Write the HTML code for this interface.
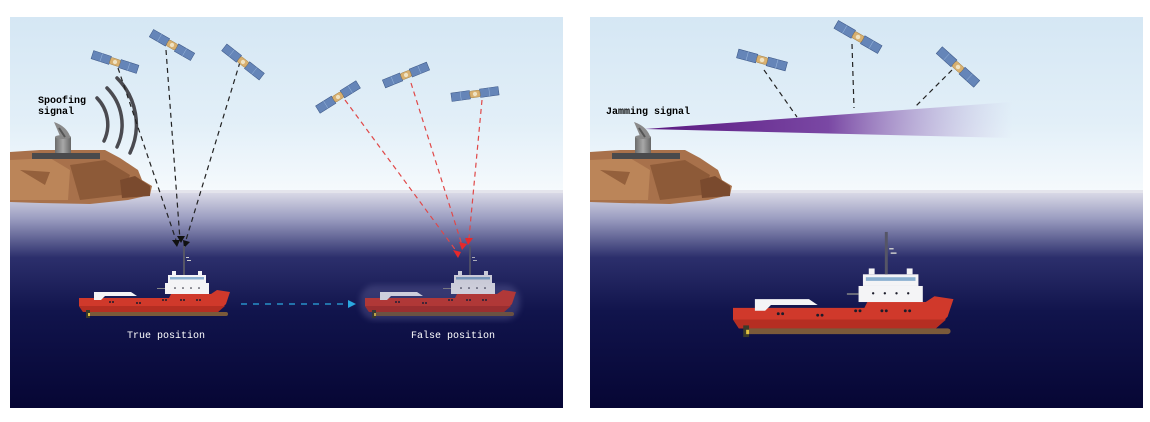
<!DOCTYPE html>
<html><head><meta charset="utf-8"><style>
html,body{margin:0;padding:0;background:#fff;}
svg{display:block;}
text{font-family:"Liberation Mono",monospace;font-size:10px;}
</style></head><body>
<svg width="1150" height="422" viewBox="0 0 1150 422" xmlns="http://www.w3.org/2000/svg">
<defs>
<linearGradient id="sky" x1="0" y1="0" x2="0" y2="1">
<stop offset="0" stop-color="#d5e7f4"/><stop offset="0.6" stop-color="#e2eff8"/><stop offset="1" stop-color="#f6fafd"/></linearGradient>
<linearGradient id="sea" x1="0" y1="0" x2="0" y2="1">
<stop offset="0" stop-color="#d8d8e6"/><stop offset="0.12" stop-color="#9a9cc0"/><stop offset="0.3" stop-color="#2c2f6c"/><stop offset="0.55" stop-color="#11144c"/><stop offset="1" stop-color="#060634"/></linearGradient>
<linearGradient id="beam" x1="0" y1="0" x2="1" y2="0">
<stop offset="0" stop-color="#5a1880"/><stop offset="0.5" stop-color="#7a48a4"/><stop offset="1" stop-color="#b8a8d6" stop-opacity="0"/></linearGradient>
<linearGradient id="cyl" x1="0" y1="0" x2="1" y2="0"><stop offset="0" stop-color="#6a6a6a"/><stop offset="0.5" stop-color="#a8a8a8"/><stop offset="1" stop-color="#666"/></linearGradient>
<filter id="glow"><feGaussianBlur stdDeviation="3"/></filter>
<g id="sat">
<rect x="-28" y="-5" width="22" height="10" fill="#6585b8" stroke="#3b5686" stroke-width="0.6"/>
<rect x="6" y="-5" width="22" height="10" fill="#6585b8" stroke="#3b5686" stroke-width="0.6"/>
<line x1="-17" y1="-5" x2="-17" y2="5" stroke="#9fbce0" stroke-width="0.5"/>
<line x1="17" y1="-5" x2="17" y2="5" stroke="#9fbce0" stroke-width="0.5"/>
<rect x="-6" y="-4" width="12" height="8" rx="2" fill="#d8b070" stroke="#9a7a40" stroke-width="0.5"/>
<circle cx="0" cy="0" r="2.5" fill="#efe2c2"/>
</g>
<g id="cliff">
<path d="M0,152 L30,150 L95,150 L110,158 L128,170 L132,180 L142,186 L140,195 L118,200 L80,204 L30,203 L0,202 Z" fill="#a8714b"/>
<path d="M0,160 L40,158 L60,170 L58,200 L0,200 Z" fill="#bb8559"/>
<path d="M60,165 L95,160 L120,175 L112,195 L70,200 Z" fill="#8d5a38"/>
<path d="M110,180 L125,176 L140,186 L140,196 L112,198 Z" fill="#7a4a2e"/>
<path d="M10,170 L40,172 L35,185 Z" fill="#94603c"/>
</g>
<g id="antenna">
<rect x="22" y="153" width="68" height="6" fill="#4a4a4c"/>
<rect x="45" y="137" width="16" height="16" fill="url(#cyl)"/>
<ellipse cx="53" cy="137" rx="8" ry="2" fill="#888"/>
<path d="M44,122 Q56,126 60,136 L50,136 Z" fill="#8a8a8a"/>
<line x1="49" y1="128" x2="55" y2="137" stroke="#555" stroke-width="2"/>
</g>
<g id="ship">
<path d="M0,28 L90,28 L92,24 L132,24 L138,20 L151,22 L147,34 L139,42 L4,42 L0,36 Z" fill="#d0392b"/>
<path d="M0,36 L146,36 L139,42 L4,42 Z" fill="#b52e22"/>
<rect x="9" y="42" width="140" height="4" rx="2" fill="#7a5a3a"/>
<rect x="7" y="40" width="4" height="8" fill="#3a3a2a"/>
<rect x="9" y="43" width="2" height="3" fill="#e0c040"/>
<path d="M15,30 L15,22 L52,22 L58,26 L26,26 L22,30 Z" fill="#f4f4f6"/>
<rect x="86" y="13" width="44" height="11" fill="#f4f4f6"/>
<rect x="89" y="5" width="38" height="8" fill="#f4f4f6"/>
<rect x="91" y="7" width="34" height="2.5" fill="#8ab0d0"/>
<rect x="93" y="1" width="4" height="4" fill="#f4f4f6"/>
<rect x="119" y="1" width="4" height="4" fill="#f4f4f6"/>
<rect x="104" y="-24" width="2" height="29" fill="#556"/>
<rect x="107" y="-13" width="3" height="1" fill="#ccc"/>
<rect x="108" y="-10" width="4" height="1" fill="#ccc"/>
<g fill="#1c1c2a">
<circle cx="31" cy="32" r="1"/><circle cx="34" cy="32" r="1"/>
<circle cx="58" cy="33" r="1"/><circle cx="61" cy="33" r="1"/>
<circle cx="84" cy="30" r="1"/><circle cx="87" cy="30" r="1"/>
<circle cx="102" cy="30" r="1"/><circle cx="105" cy="30" r="1"/>
<circle cx="118" cy="30" r="1"/><circle cx="121" cy="30" r="1"/>
<circle cx="96" cy="18" r="0.8"/><circle cx="104" cy="18" r="0.8"/><circle cx="112" cy="18" r="0.8"/><circle cx="120" cy="18" r="0.8"/>
</g>
<rect x="78" y="18" width="8" height="1" fill="#888"/>
</g>
</defs>

<!-- LEFT PANEL -->
<rect x="10" y="17" width="553" height="176" fill="url(#sky)"/>
<rect x="10" y="193" width="553" height="215" fill="url(#sea)"/>
<rect x="10" y="190" width="553" height="3" fill="#e4e4ec"/>
<g transform="translate(10,0)"><use href="#cliff"/><use href="#antenna"/></g>
<g fill="none" stroke="#4a4a50" stroke-width="3.5" stroke-linecap="round">
<path d="M97,98 A38,38 0 0 1 104,141"/>
<path d="M107,88 A52,52 0 0 1 117,147"/>
<path d="M117,78 A66,66 0 0 1 130,153"/>
</g>
<text x="38" y="103" font-weight="bold">Spoofing</text>
<text x="38" y="114" font-weight="bold">signal</text>

<g stroke="#222" stroke-width="1.2" stroke-dasharray="5,4" fill="none">
<line x1="118" y1="68" x2="176" y2="240"/>
<line x1="166" y1="50" x2="180" y2="240"/>
<line x1="240" y1="62" x2="186" y2="240"/>
</g>
<g fill="#111">
<polygon points="172,240 180,240 177,247"/>
<polygon points="177,236 185,236 181,243"/>
<polygon points="183,240 190,242 184,248"/>
</g>
<use href="#sat" transform="translate(115,62) rotate(18) scale(0.85)"/>
<use href="#sat" transform="translate(172,45) rotate(30) scale(0.85)"/>
<use href="#sat" transform="translate(243,62) rotate(38) scale(0.85)"/>

<g stroke="#e04848" stroke-width="1.2" stroke-dasharray="5,4" fill="none">
<line x1="345" y1="100" x2="457" y2="252"/>
<line x1="411" y1="83" x2="462" y2="245"/>
<line x1="482" y1="100" x2="469" y2="238"/>
</g>
<g fill="#e8282a">
<polygon points="453,250 461,252 458,258"/>
<polygon points="459,242 467,244 462,250"/>
<polygon points="465,238 473,238 468,245"/>
</g>
<use href="#sat" transform="translate(338,97) rotate(-32) scale(0.85)"/>
<use href="#sat" transform="translate(406,75) rotate(-22) scale(0.85)"/>
<use href="#sat" transform="translate(475,94) rotate(-8) scale(0.85)"/>

<use href="#ship" transform="translate(79,270)"/>
<text x="127" y="338" fill="#fff">True position</text>

<rect x="360" y="285" width="160" height="35" rx="15" fill="#6a6aa0" opacity="0.35" filter="url(#glow)"/>
<g opacity="0.8"><use href="#ship" transform="translate(365,270)"/></g>
<text x="411" y="338" fill="#fff">False position</text>

<line x1="241" y1="304" x2="348" y2="304" stroke="#2aa8e0" stroke-width="1.3" stroke-dasharray="6,6"/>
<polygon points="348,300 356,304 348,308" fill="#2aa8e0"/>

<!-- RIGHT PANEL -->
<rect x="590" y="17" width="553" height="176" fill="url(#sky)"/>
<rect x="590" y="193" width="553" height="215" fill="url(#sea)"/>
<rect x="590" y="190" width="553" height="3" fill="#e4e4ec"/>
<g transform="translate(590,0)"><use href="#cliff"/><use href="#antenna"/></g>
<text x="606" y="114" font-weight="bold">Jamming signal</text>
<polygon points="645,129 1012,102 1012,138" fill="url(#beam)"/>
<g stroke="#222" stroke-width="1.2" stroke-dasharray="5,4" fill="none">
<line x1="764" y1="70" x2="797" y2="117"/>
<line x1="852" y1="44" x2="854" y2="108"/>
<line x1="952" y1="70" x2="916" y2="106"/>
</g>
<use href="#sat" transform="translate(762,60) rotate(15) scale(0.9)"/>
<use href="#sat" transform="translate(858,37) rotate(30) scale(0.9)"/>
<use href="#sat" transform="translate(958,67) rotate(42) scale(0.9)"/>

<use href="#ship" transform="translate(733,267) scale(1.46)"/>
</svg>
</body></html>
